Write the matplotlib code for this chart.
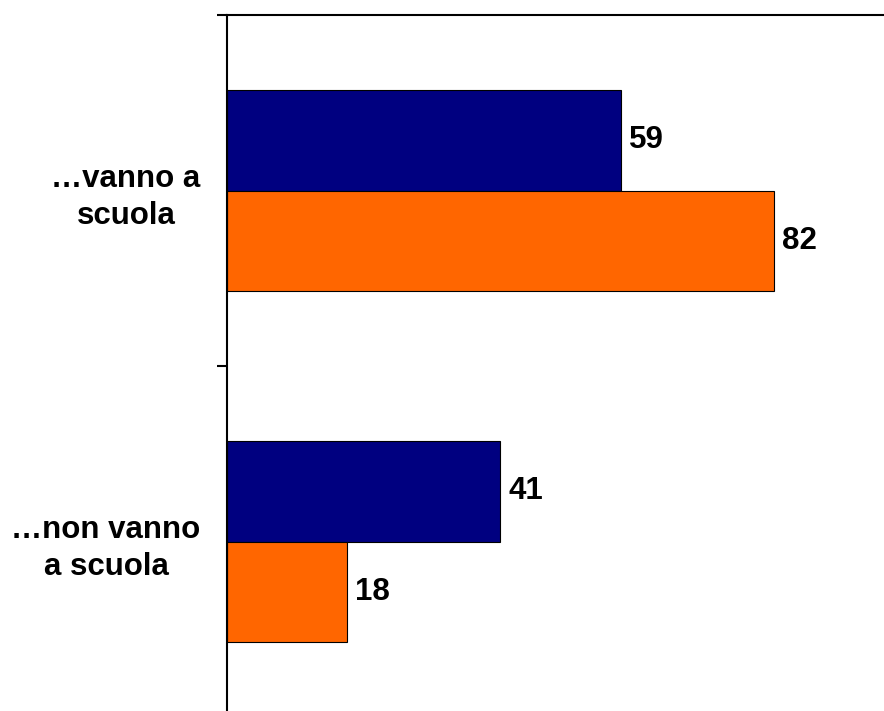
#!/usr/bin/env python3
# -*- coding: utf-8 -*-
"""Barre orizzontali: bambini che vanno / non vanno a scuola"""

import matplotlib
matplotlib.use("Agg")
import matplotlib.pyplot as plt

categorie = ["…vanno a\nscuola", "…non vanno\na scuola"]
serie_blu = [59, 41]
serie_arancio = [82, 18]

plt.rcParams['font.family'] = ['Liberation Sans', 'DejaVu Sans']

fig = plt.figure(figsize=(8.84, 7.11), dpi=100)
ax = fig.add_axes([227/884, -6/711, 667/884, 702/711])

h = 0.285
pos = list(range(len(categorie)))
b1 = ax.barh([p - h/2 for p in pos], serie_blu, height=h,
             color="#000080", edgecolor="black", linewidth=0.8)
b2 = ax.barh([p + h/2 for p in pos], serie_arancio, height=h,
             color="#FF6600", edgecolor="black", linewidth=0.8)

for barre in (b1, b2):
    for r in barre:
        ax.annotate(f"{r.get_width():.0f}",
                    (r.get_width(), r.get_y() + r.get_height()/2),
                    xytext=(6, 0), textcoords="offset points",
                    ha="left", va="center", fontsize=22.5, fontweight="bold")

ax.set_xlim(0, 100)
ax.set_ylim(1.5, -0.5)

# tacche ai bordi delle categorie, etichette al centro
ax.set_yticks([-0.5, 0.5, 1.5])
ax.set_yticklabels([])
ax.set_yticks(pos, minor=True)
ax.set_yticklabels(categorie, minor=True, fontsize=22.5, fontweight="bold")
ax.tick_params(axis="y", which="major", length=7.5, width=1.5, direction="out")
ax.tick_params(axis="y", which="minor", length=0, pad=19)
for lab in ax.get_yticklabels(minor=True):
    lab.set_multialignment("center")
    lab.set_linespacing(1.3)
ax.set_xticks([])

for s in ("right", "bottom"):
    ax.spines[s].set_visible(False)
for s in ("left", "top"):
    ax.spines[s].set_linewidth(1.5)

fig.savefig("out.png", dpi=100)
